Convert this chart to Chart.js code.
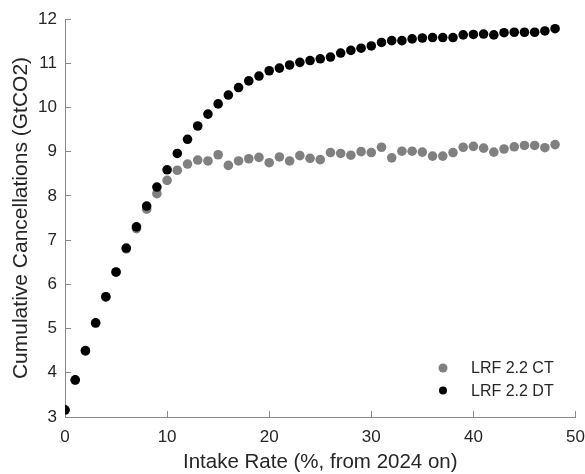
<!DOCTYPE html>
<html>
<head>
<meta charset="utf-8">
<script src="https://cdn.jsdelivr.net/npm/chart.js@4.4.0/dist/chart.umd.min.js"></script>
<style>
  body { margin: 0; background: #fff; }
  #chart { display: block; }
</style>
</head>
<body>
<canvas id="chart" width="585" height="474"></canvas>
<script>
// data
const intakeRate = [0, 1, 2, 3, 4, 5, 6, 7, 8, 9, 10, 11, 12, 13, 14, 15, 16, 17, 18, 19, 20, 21, 22, 23, 24,
  25, 26, 27, 28, 29, 30, 31, 32, 33, 34, 35, 36, 37, 38, 39, 40, 41, 42, 43, 44, 45, 46, 47, 48];
const ctValues = [3.15, 3.83, 4.49, 5.12, 5.71, 6.27, 6.80, 7.26, 7.70, 8.05, 8.35, 8.58, 8.72, 8.81, 8.79,
  8.93, 8.69, 8.79, 8.84, 8.87, 8.75, 8.88, 8.79, 8.91, 8.85, 8.82, 8.98, 8.96, 8.92, 9.00, 8.98, 9.10,
  8.86, 9.01, 9.01, 8.99, 8.90, 8.90, 8.98, 9.10, 9.12, 9.08, 8.99, 9.06, 9.11, 9.14, 9.14, 9.09, 9.16];
const dtValues = [3.16, 3.84, 4.50, 5.13, 5.72, 6.28, 6.82, 7.30, 7.77, 8.20, 8.59, 8.96, 9.28, 9.58, 9.85,
  10.08, 10.28, 10.45, 10.60, 10.71, 10.83, 10.89, 10.96, 11.02, 11.06, 11.10, 11.14, 11.23, 11.29, 11.34,
  11.39, 11.47, 11.51, 11.51, 11.55, 11.57, 11.58, 11.58, 11.58, 11.64, 11.65, 11.66, 11.64, 11.69, 11.70,
  11.70, 11.70, 11.73, 11.78];
const seriesLabels = ['LRF 2.2 CT', 'LRF 2.2 DT'];
const xTicks = [0, 10, 20, 30, 40, 50];
const yTicks = [3, 4, 5, 6, 7, 8, 9, 10, 11, 12];

const textColor = '#262626';
const axisColor = '#8a8a8a';
const fontFamily = '"Liberation Sans", Arial, sans-serif';

function toPoints(xs, ys) {
  return xs.map((x, i) => ({ x: x, y: ys[i] }));
}

// legend drawn inside the plot, bottom right, like the original
const innerLegend = {
  id: 'innerLegend',
  afterDraw(chart) {
    const ctx = chart.ctx;
    const area = chart.chartArea;
    const rowH = 22.4;
    const startY = area.bottom - 49;
    const markerX = area.right - 132.5;
    ctx.save();
    ctx.font = '16px ' + fontFamily;
    ctx.textAlign = 'left';
    ctx.textBaseline = 'middle';
    chart.data.datasets.forEach((ds, i) => {
      const y = startY + i * rowH;
      ctx.beginPath();
      ctx.arc(markerX, y, i === 0 ? 4.5 : 4, 0, Math.PI * 2);
      ctx.fillStyle = ds.backgroundColor;
      ctx.fill();
      ctx.fillStyle = textColor;
      ctx.fillText(ds.label, markerX + 28, y + 1);
    });
    ctx.restore();
  }
};

new Chart(document.getElementById('chart'), {
  type: 'scatter',
  data: {
    datasets: [
      {
        label: seriesLabels[0],
        data: toPoints(intakeRate, ctValues),
        backgroundColor: '#808080',
        borderWidth: 0,
        pointRadius: 4.8,
        order: 2
      },
      {
        label: seriesLabels[1],
        data: toPoints(intakeRate, dtValues),
        backgroundColor: '#000000',
        borderWidth: 0,
        pointRadius: 4.8,
        order: 1
      }
    ]
  },
  options: {
    responsive: false,
    animation: false,
    layout: { padding: { left: 0, right: 9.5, top: 19, bottom: 0 } },
    plugins: {
      legend: { display: false },
      tooltip: { enabled: false }
    },
    scales: {
      x: {
        type: 'linear',
        min: 0,
        max: 50,
        afterBuildTicks: (scale) => { scale.ticks = xTicks.map(v => ({ value: v })); },
        afterFit: (scale) => {
          scale.height = 57;
          scale.paddingLeft = 0;
          scale.paddingRight = 0;
        },
        border: { display: true, color: axisColor, width: 1 },
        grid: { drawOnChartArea: false, drawTicks: true, tickLength: -6, color: axisColor },
        ticks: { color: textColor, font: { family: fontFamily, size: 17 }, padding: 16, maxRotation: 0 },
        title: {
          display: true,
          text: 'Intake Rate (%, from 2024 on)',
          color: textColor,
          font: { family: fontFamily, size: 20.5, lineHeight: 1.1 },
          padding: { top: 0, bottom: 0 }
        }
      },
      y: {
        type: 'linear',
        min: 3,
        max: 12,
        afterBuildTicks: (scale) => { scale.ticks = yTicks.map(v => ({ value: v })); },
        afterFit: (scale) => {
          scale.width = 65;
          scale.paddingTop = 0;
          scale.paddingBottom = 0;
        },
        border: { display: true, color: axisColor, width: 1 },
        grid: { drawOnChartArea: false, drawTicks: true, tickLength: -6, color: axisColor },
        ticks: { color: textColor, font: { family: fontFamily, size: 17 }, padding: 14 },
        title: {
          display: true,
          text: 'Cumulative Cancellations (GtCO2)',
          color: textColor,
          font: { family: fontFamily, size: 21, lineHeight: 1.1 },
          padding: { top: 10, bottom: 0 }
        }
      }
    }
  },
  plugins: [innerLegend]
});
</script>
</body>
</html>
